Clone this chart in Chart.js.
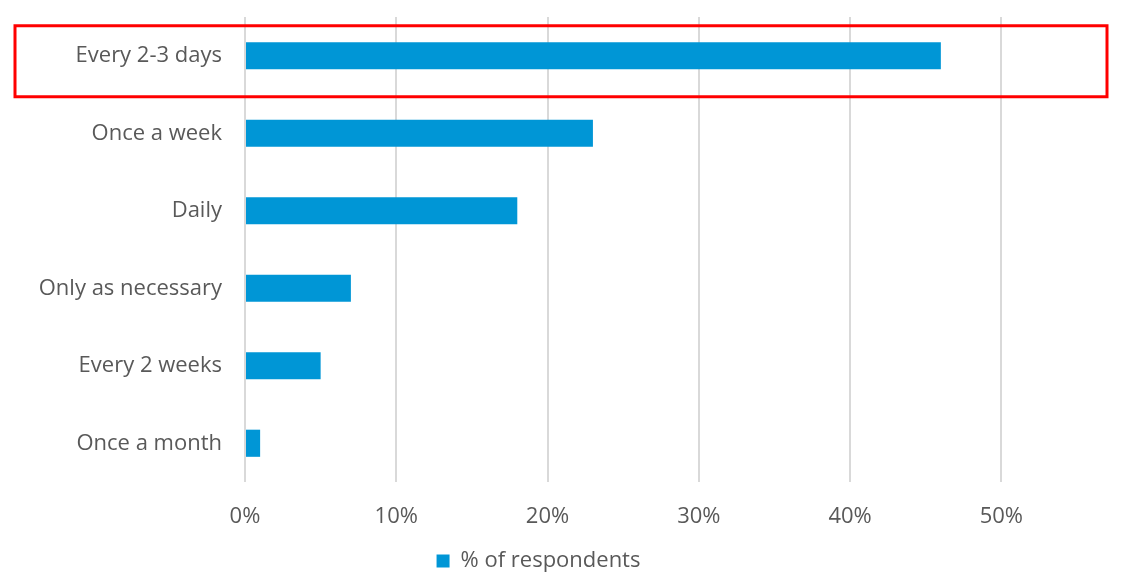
<!DOCTYPE html>
<html>
<head>
<meta charset="utf-8">
<script src="https://cdn.jsdelivr.net/npm/chart.js@4"></script>
<style>
  html, body { margin: 0; padding: 0; background: #fff; }
  #wrap { width: 1124px; height: 586px; }
</style>
</head>
<body>
<div id="wrap"><canvas id="chBar"></canvas></div>
<script>
// data
var categories = [ 'Every 2-3 days', 'Once a week', 'Daily', 'Only as necessary', 'Every 2 weeks', 'Once a month' ];
var respondents = [ 46, 23, 18, 7, 5, 1 ];
var seriesName = '% of respondents';
var xTicks = [ 0, 10, 20, 30, 40, 50 ];

var barColor = '#0096d6';
var textColor = '#595959';
var fontFamily = '"Open Sans", Roboto, sans-serif';

// red highlight box round the first category
var highlight = {
	id: 'highlight',
	afterDraw: function (chart) {
		var y = chart.scales.y.getPixelForValue(0);
		var ctx = chart.ctx;
		ctx.save();
		ctx.strokeStyle = '#ff0000';
		ctx.lineWidth = 3;
		ctx.strokeRect(15, y - 30, chart.width - 32, 71);
		ctx.restore();
	}
};

new Chart(document.getElementById('chBar'), {
	type: 'bar',
	data: {
		labels: categories,
		datasets: [
			{
				label: seriesName,
				data: respondents,
				backgroundColor: barColor,
				borderWidth: 0,
				categoryPercentage: 1,
				barPercentage: 0.35
			}
		]
	},
	options: {
		indexAxis: 'y',
		responsive: true,
		maintainAspectRatio: false,
		animation: false,
		layout: { padding: { top: 17, right: 47, bottom: 4, left: 0 } },
		scales: {
			x: {
				min: 0,
				max: 55,
				grid: { color: '#d9d9d9', lineWidth: 2, drawTicks: false },
				border: { display: false },
				afterBuildTicks: function (scale) {
					scale.ticks = xTicks.map(function (v) { return { value: v }; });
				},
				afterFit: function (scale) { scale.height = 60; },
				ticks: {
					padding: 22,
					color: textColor,
					font: { family: fontFamily, size: 22 },
					callback: function (v) { return v + '%'; }
				}
			},
			y: {
				grid: { display: false, tickLength: 0 },
				border: { display: false },
				afterFit: function (scale) {
					scale.width = 245;
					scale.paddingTop = 0;
					scale.paddingBottom = 0;
				},
				ticks: {
					padding: 23,
					color: textColor,
					font: { family: fontFamily, size: 22 }
				}
			}
		},
		plugins: {
			legend: {
				position: 'bottom',
				labels: {
					color: textColor,
					boxWidth: 13,
					boxHeight: 13,
					padding: 8,
					font: { family: fontFamily, size: 22 }
				}
			},
			tooltip: { enabled: false }
		}
	},
	plugins: [ highlight ]
});
</script>
</body>
</html>
